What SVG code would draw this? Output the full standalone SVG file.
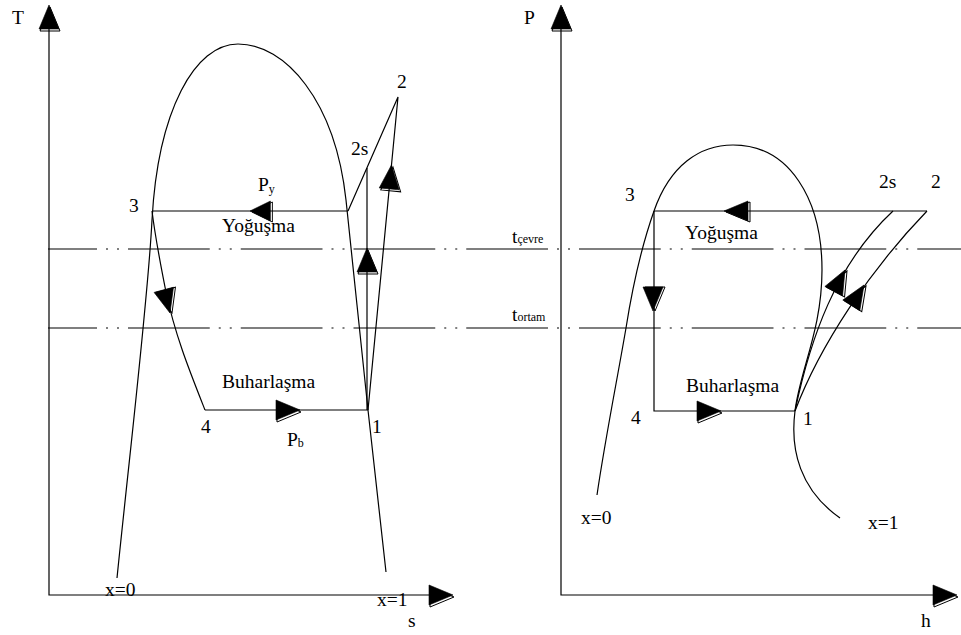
<svg xmlns="http://www.w3.org/2000/svg" xmlns:xlink="http://www.w3.org/1999/xlink" width="961" height="635" viewBox="0 0 961 635">
<style>
.ln{fill:none;stroke:#000;stroke-width:1.2}
.dd{fill:none;stroke:#000;stroke-width:1.2;stroke-dasharray:81.75 9 2 9 2 9;stroke-dashoffset:32.75}
.af{fill:#000;stroke:#000;stroke-width:0.6}
.ao{fill:none;stroke:#000;stroke-width:1}
text{font-family:"Liberation Serif","Times New Roman",serif;font-size:19.5px;fill:#000}
.sub{font-size:12px}
</style>
<defs>
<polygon id="tri" points="0,0 -24,-10 -24,10"/>
</defs>
<rect width="961" height="635" fill="#fff"/>

<g id="reference-lines">
<path class="dd" d="M48,249 H961"/>
<path class="dd" d="M48,328 H961"/>
</g>

<g id="axes">
<path class="ln" d="M49,29 V595 H430"/>
<path class="ln" d="M561,29 V595 H934"/>
</g>

<g id="connectors">
<!-- T-s diagram -->
<path id="ts-dome" class="ln" d="M117,578 C130,450 148,300 152,220 C158,110 195,44 238,44 C285,44 335,100 346,200 C352,260 362,350 368,410 L386,572"/>
<path id="ts-cond" class="ln" d="M152,211 H348"/>
<path id="ts-exp" class="ln" d="M152,211 C155,235 160,262 166,292 C175,335 190,372 205,410"/>
<path id="ts-evap" class="ln" d="M205,410 H368"/>
<path id="ts-comp-s" class="ln" d="M367,410 V168"/>
<path id="ts-comp" class="ln" d="M368,410 L398,97 L348,211"/>
<!-- P-h diagram -->
<path id="ph-dome" class="ln" d="M597,495 C605,440 618,375 626,328 C632,290 642,245 654,211 C670,165 700,145 733,145 C790,145 822,200 822,270 C822,330 800,370 795,411 C790,450 800,490 840,518"/>
<path id="ph-cond" class="ln" d="M654,211 H927"/>
<path id="ph-exp" class="ln" d="M654,211 V411 H795"/>
<path id="ph-comp-s" class="ln" d="M795,411 C810,340 835,265 893,211"/>
<path id="ph-comp" class="ln" d="M795,411 C820,345 870,270 927,211"/>
</g>

<g id="arrowheads">
<g transform="translate(49,5)"><use xlink:href="#tri" class="af" transform="rotate(-90)"/><use xlink:href="#tri" class="ao" transform="translate(1,2) rotate(-90)"/></g>
<g transform="translate(453,595)"><use xlink:href="#tri" class="af"/><use xlink:href="#tri" class="ao" transform="translate(1,2)"/></g>
<g transform="translate(561,5)"><use xlink:href="#tri" class="af" transform="rotate(-90)"/><use xlink:href="#tri" class="ao" transform="translate(1,2) rotate(-90)"/></g>
<g transform="translate(957,595)"><use xlink:href="#tri" class="af"/><use xlink:href="#tri" class="ao" transform="translate(1,2)"/></g>

<g transform="translate(250,211)"><use xlink:href="#tri" class="af" transform="rotate(180) scale(0.85,1)"/><use xlink:href="#tri" class="ao" transform="translate(2,1) rotate(180) scale(0.85,1)"/></g>
<g transform="translate(300,410)"><use xlink:href="#tri" class="af"/><use xlink:href="#tri" class="ao" transform="translate(1,2)"/></g>
<g transform="translate(170,313)"><use xlink:href="#tri" class="af" transform="rotate(75)"/><use xlink:href="#tri" class="ao" transform="translate(2,0) rotate(75)"/></g>
<g transform="translate(367,248)"><use xlink:href="#tri" class="af" transform="rotate(-90)"/><use xlink:href="#tri" class="ao" transform="translate(1,2) rotate(-90)"/></g>
<g transform="translate(391.5,165)"><use xlink:href="#tri" class="af" transform="rotate(-84.5)"/><use xlink:href="#tri" class="ao" transform="translate(1.5,2) rotate(-84.5)"/></g>

<g transform="translate(724,211)"><use xlink:href="#tri" class="af" transform="rotate(180)"/><use xlink:href="#tri" class="ao" transform="translate(2,1) rotate(180)"/></g>
<g transform="translate(653,311)"><use xlink:href="#tri" class="af" transform="rotate(90)"/><use xlink:href="#tri" class="ao" transform="translate(2,0) rotate(90)"/></g>
<g transform="translate(721,411)"><use xlink:href="#tri" class="af"/><use xlink:href="#tri" class="ao" transform="translate(1,2)"/></g>
<g transform="translate(845,270)"><use xlink:href="#tri" class="af" transform="rotate(-62)"/><use xlink:href="#tri" class="ao" transform="translate(2,1) rotate(-62)"/></g>
<g transform="translate(864,285)"><use xlink:href="#tri" class="af" transform="rotate(-58)"/><use xlink:href="#tri" class="ao" transform="translate(2,1) rotate(-58)"/></g>
</g>

<g id="labels">
<text x="12" y="24">T</text>
<text x="408" y="627">s</text>
<text x="524" y="24">P</text>
<text x="921" y="627">h</text>
<text x="512" y="243">t<tspan class="sub" font-size="11px">çevre</tspan></text>
<text x="512" y="321">t<tspan class="sub" font-size="11px">ortam</tspan></text>

<text x="129" y="212">3</text>
<text x="258" y="191">P<tspan class="sub" dy="2">y</tspan></text>
<text x="222" y="232">Yoğuşma</text>
<text x="351" y="155">2s</text>
<text x="397" y="88">2</text>
<text x="222" y="388">Buharlaşma</text>
<text x="201" y="433">4</text>
<text x="372" y="433">1</text>
<text x="287" y="446">P<tspan class="sub" dy="1">b</tspan></text>
<text x="105" y="596">x=0</text>
<text x="377" y="606">x=1</text>

<text x="625" y="201">3</text>
<text x="685" y="239">Yoğuşma</text>
<text x="879" y="188">2s</text>
<text x="931" y="188">2</text>
<text x="686" y="392">Buharlaşma</text>
<text x="631" y="424">4</text>
<text x="803" y="425">1</text>
<text x="581" y="524">x=0</text>
<text x="868" y="529">x=1</text>
</g>
</svg>
